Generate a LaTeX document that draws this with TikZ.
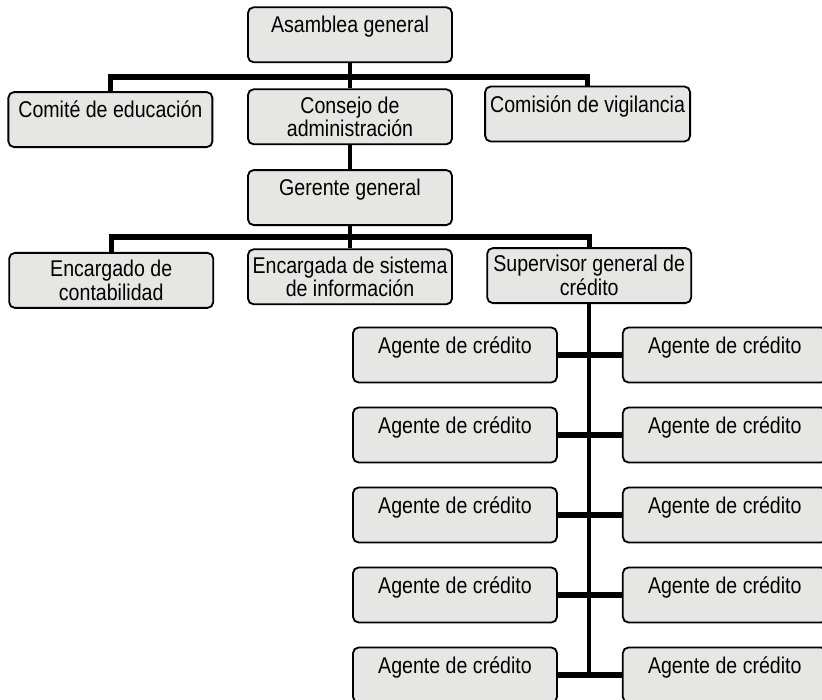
\documentclass[tikz,border=0pt]{standalone}
\usepackage{fontspec}
\setmainfont{Liberation Sans}
\newfontfamily\orgfont[FakeStretch=0.86]{Liberation Sans}
\definecolor{boxfill}{HTML}{E6E6E4}

\begin{document}
\begin{tikzpicture}[
  unit/.style={draw, line width=1.3pt, rounded corners=4pt, fill=boxfill, minimum width=5.1cm, minimum height=1.375cm, inner sep=0pt, align=center, font=\orgfont\fontsize{16.2}{16.8}\selectfont},
  unitone/.style={unit, text height=0.64cm, text depth=0.735cm},
  bus/.style={line width=3.8pt},
  link/.style={line width=3pt},
]
\useasboundingbox (0,0) rectangle (20.55,17.5);

% Top level
\node[unitone] (asamblea) at (8.75, 16.63) {Asamblea general};
\coordinate (bar1) at (0, 15.575);

% Second level
\node[unitone] (comite) at (2.76, 14.51) {Comité de educación};
\node[unit] (consejo) at (8.75, 14.58) {Consejo de\\administración};
\node[unitone, minimum width=5.125cm] (comision) at (14.69, 14.65) {Comisión de vigilancia};

% Management
\node[unitone] (gerente) at (8.75, 12.56) {Gerente general};
\coordinate (bar2) at (0, 11.575);

% Staff
\node[unit] (encargado) at (2.78, 10.49) {Encargado de\\contabilidad};
\node[unit] (encargada) at (8.75, 10.58) {Encargada de sistema\\de información};
\node[unit] (supervisor) at (14.73, 10.61) {Supervisor general de\\crédito};

% Credit agents, left column
\node[unitone] (agl1) at (11.375, 8.625) {Agente de crédito};
\node[unitone] (agl2) at (11.375, 6.625) {Agente de crédito};
\node[unitone] (agl3) at (11.375, 4.625) {Agente de crédito};
\node[unitone] (agl4) at (11.375, 2.625) {Agente de crédito};
\node[unitone] (agl5) at (11.375, 0.625) {Agente de crédito};

% Credit agents, right column
\node[unitone] (agr1) at (18.12, 8.625) {Agente de crédito};
\node[unitone] (agr2) at (18.12, 6.625) {Agente de crédito};
\node[unitone] (agr3) at (18.12, 4.625) {Agente de crédito};
\node[unitone] (agr4) at (18.12, 2.625) {Agente de crédito};
\node[unitone] (agr5) at (18.12, 0.625) {Agente de crédito};

% Connectors
\draw[link] (asamblea.south) -- (consejo.north);
\draw[bus] (comite.north) -- (comite.north |- bar1) -- (comision.north |- bar1) -- (comision.north);
\draw[link] (consejo.south) -- (gerente.north);
\draw[link] (gerente.south) -- (encargada.north);
\draw[bus] (encargado.north) -- (encargado.north |- bar2) -- (supervisor.north |- bar2) -- (supervisor.north);
\draw[link] (supervisor.south) -- (supervisor.south |- agl5.east);
\draw[bus] (agl1.east) -- (agr1.west);
\draw[bus] (agl2.east) -- (agr2.west);
\draw[bus] (agl3.east) -- (agr3.west);
\draw[bus] (agl4.east) -- (agr4.west);
\draw[bus] (agl5.east) -- (agr5.west);

\end{tikzpicture}
\end{document}
